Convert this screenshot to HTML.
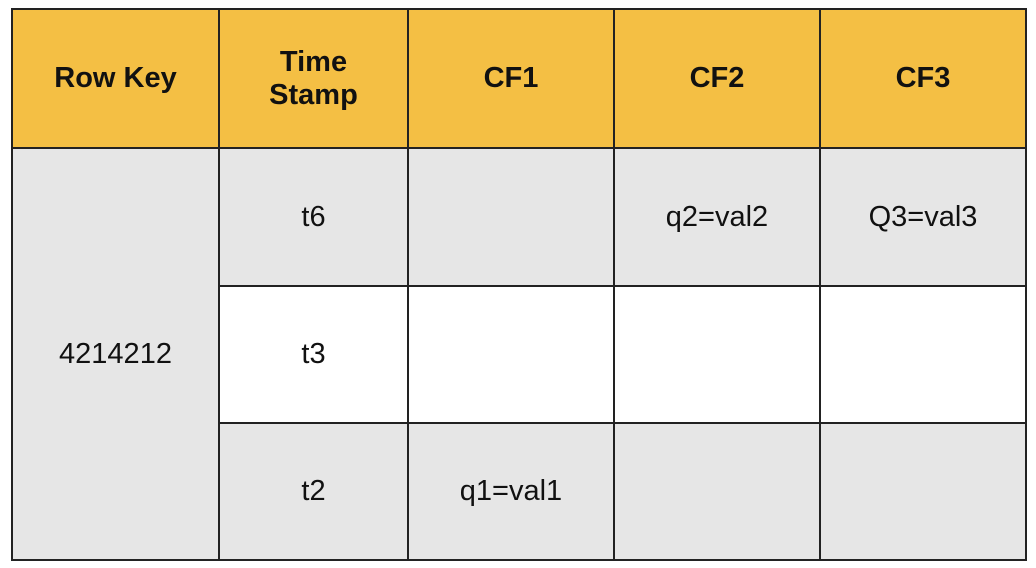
<!DOCTYPE html>
<html><head><style>
body{margin:0;width:1036px;height:568px;background:#fff;position:relative;font-family:"Liberation Sans",sans-serif;overflow:hidden}
.c{position:absolute;box-sizing:border-box;border:2px solid #222;display:flex;align-items:center;justify-content:center;text-align:center;font-size:29px;color:#111}
.h{background:#F4BF44;font-weight:bold;font-size:29px;line-height:33px}
.g{background:#E6E6E6}
.w{background:#fff}
</style></head><body>
<div class="c h" style="left:11px;top:8px;width:209px;height:141px">Row Key</div>
<div class="c h" style="left:218px;top:8px;width:191px;height:141px">Time<br>Stamp</div>
<div class="c h" style="left:407px;top:8px;width:208px;height:141px">CF1</div>
<div class="c h" style="left:613px;top:8px;width:208px;height:141px">CF2</div>
<div class="c h" style="left:819px;top:8px;width:208px;height:141px">CF3</div>

<div class="c g" style="left:11px;top:147px;width:209px;height:414px">4214212</div>

<div class="c g" style="left:218px;top:147px;width:191px;height:140px">t6</div>
<div class="c g" style="left:407px;top:147px;width:208px;height:140px"></div>
<div class="c g" style="left:613px;top:147px;width:208px;height:140px">q2=val2</div>
<div class="c g" style="left:819px;top:147px;width:208px;height:140px">Q3=val3</div>

<div class="c w" style="left:218px;top:285px;width:191px;height:139px">t3</div>
<div class="c w" style="left:407px;top:285px;width:208px;height:139px"></div>
<div class="c w" style="left:613px;top:285px;width:208px;height:139px"></div>
<div class="c w" style="left:819px;top:285px;width:208px;height:139px"></div>

<div class="c g" style="left:218px;top:422px;width:191px;height:139px">t2</div>
<div class="c g" style="left:407px;top:422px;width:208px;height:139px">q1=val1</div>
<div class="c g" style="left:613px;top:422px;width:208px;height:139px"></div>
<div class="c g" style="left:819px;top:422px;width:208px;height:139px"></div>
</body></html>
